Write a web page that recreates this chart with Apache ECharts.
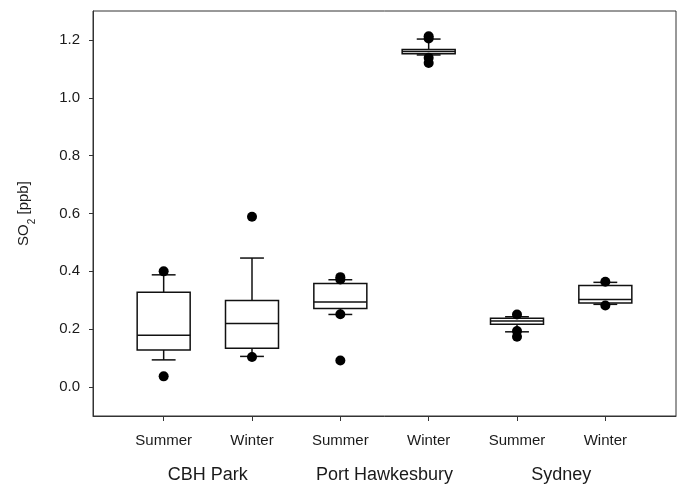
<!DOCTYPE html>
<html>
<head>
<meta charset="utf-8">
<script src="https://cdn.jsdelivr.net/npm/echarts@6/dist/echarts.min.js"></script>
<style>html,body{margin:0;padding:0;background:#fff;}#c{width:681px;height:484px;}</style>
</head>
<body>
<div id="c"></div>
<script>
// categories (x positions 1..6)
var seasons = ['Summer', 'Winter', 'Summer', 'Winter', 'Summer', 'Winter'];
var sites = ['CBH Park', 'Port Hawkesbury', 'Sydney'];
var sitePositions = [1.5, 3.5, 5.5];
var yTicks = [0, 0.2, 0.4, 0.6, 0.8, 1.0, 1.2];
// box stats: [lowerWhisker, Q1, median, Q3, upperWhisker]
var boxStats = [
  [0.094, 0.128, 0.179, 0.328, 0.388],
  [0.106, 0.134, 0.220, 0.299, 0.446],
  [0.251, 0.272, 0.294, 0.358, 0.371],
  [1.148, 1.152, 1.160, 1.167, 1.203],
  [0.191, 0.217, 0.228, 0.238, 0.243],
  [0.286, 0.291, 0.303, 0.351, 0.362]
];
// outliers per box
var outliers = [
  [0.400, 0.037],
  [0.589, 0.104],
  [0.380, 0.372, 0.252, 0.092],
  [1.213, 1.205, 1.138, 1.120],
  [0.251, 0.194, 0.174],
  [0.364, 0.282]
];

var boxData = boxStats.map(function (s, i) { return [i + 1].concat(s); });
var dotData = [];
outliers.forEach(function (arr, i) { arr.forEach(function (v) { dotData.push([i + 1, v]); }); });

var chart = echarts.init(document.getElementById('c'));
var font = 'Liberation Sans, Arial, sans-serif';
chart.setOption({
  animation: false,
  grid: { left: 93, right: 5, top: 11, bottom: 65, show: true, borderColor: '#333', borderWidth: 1, backgroundColor: 'transparent' },
  xAxis: [{
    type: 'value', min: 0.2, max: 6.8, position: 'bottom',
    axisLine: { show: true, onZero: false, lineStyle: { color: '#333', width: 1 } },
    axisTick: { show: true, inside: false, length: 5, customValues: [1, 2, 3, 4, 5, 6], lineStyle: { color: '#333' } },
    axisLabel: { show: true, margin: 17, fontFamily: font, fontSize: 15, color: '#1a1a1a', customValues: [1, 2, 3, 4, 5, 6],
      formatter: function (v) { return seasons[Math.round(v) - 1] || ''; } },
    splitLine: { show: false }
  }, {
    type: 'value', min: 0.2, max: 6.8, position: 'bottom',
    axisLine: { show: false, onZero: false }, axisTick: { show: false },
    axisLabel: { show: true, margin: 50, fontFamily: font, fontSize: 18, color: '#1a1a1a', customValues: sitePositions,
      formatter: function (v) { var i = sitePositions.indexOf(v); return i >= 0 ? sites[i] : ''; } },
    splitLine: { show: false }
  }],
  yAxis: {
    type: 'value', min: -0.1, max: 1.3,
    name: 'SO{sub|2} [ppb]', nameLocation: 'middle', nameGap: 62, nameRotate: 90,
    nameTextStyle: { fontFamily: font, fontSize: 15, color: '#1a1a1a', rich: { sub: { fontSize: 10, verticalAlign: 'bottom', padding: [0, 0, -6, 0], fontFamily: font, color: '#1a1a1a' } } },
    axisLine: { show: true, onZero: false, lineStyle: { color: '#333', width: 1 } },
    axisTick: { show: true, inside: false, length: 4, customValues: yTicks, lineStyle: { color: '#333' } },
    axisLabel: { show: true, margin: 13, fontFamily: font, fontSize: 15, color: '#1a1a1a', customValues: yTicks,
      formatter: function (v) { return v.toFixed(1); } },
    splitLine: { show: false }
  },
  series: [{
    type: 'custom',
    xAxisIndex: 0,
    data: boxData,
    z: 2,
    renderItem: function (params, api) {
      var x = api.value(0);
      var lo = api.value(1), q1 = api.value(2), med = api.value(3), q3 = api.value(4), hi = api.value(5);
      var bw = 0.3, cw = 0.135;
      var pL = api.coord([x - bw, q3]), pR = api.coord([x + bw, q1]);
      var c = api.coord([x, med]);
      var cl = api.coord([x - cw, hi]), cr = api.coord([x + cw, lo]);
      var top = api.coord([x, hi]), bot = api.coord([x, lo]);
      var q3p = api.coord([x, q3]), q1p = api.coord([x, q1]);
      var st = { stroke: '#111', lineWidth: 1.5, fill: null };
      return {
        type: 'group',
        children: [
          { type: 'line', shape: { x1: top[0], y1: top[1], x2: q3p[0], y2: q3p[1] }, style: st },
          { type: 'line', shape: { x1: bot[0], y1: bot[1], x2: q1p[0], y2: q1p[1] }, style: st },
          { type: 'line', shape: { x1: cl[0], y1: top[1], x2: cr[0], y2: top[1] }, style: st },
          { type: 'line', shape: { x1: cl[0], y1: bot[1], x2: cr[0], y2: bot[1] }, style: st },
          { type: 'rect', shape: { x: pL[0], y: pL[1], width: pR[0] - pL[0], height: pR[1] - pL[1] }, style: { stroke: '#111', lineWidth: 1.5, fill: '#fff' } },
          { type: 'line', shape: { x1: pL[0], y1: c[1], x2: pR[0], y2: c[1] }, style: st }
        ]
      };
    }
  }, {
    type: 'scatter',
    xAxisIndex: 0,
    data: dotData,
    symbol: 'circle',
    symbolSize: 10,
    z: 3,
    itemStyle: { color: '#000', opacity: 1 }
  }]
});
</script>
</body>
</html>
